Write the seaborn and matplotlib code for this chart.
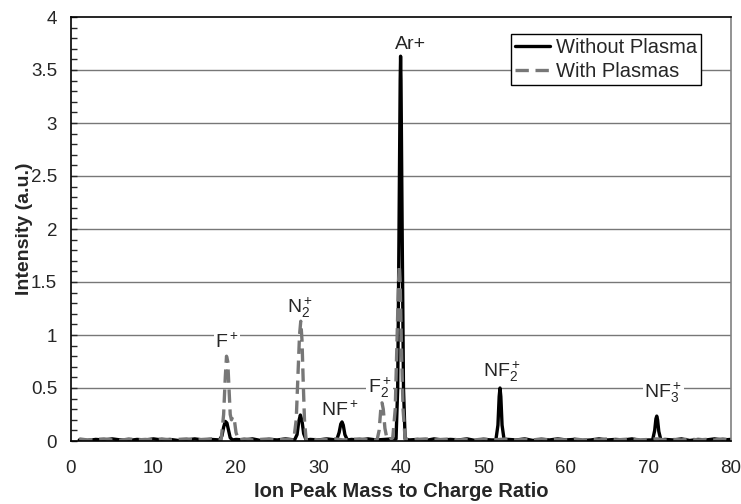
import pandas as pd
import matplotlib
matplotlib.use("Agg")
import matplotlib.pyplot as plt
import seaborn as sns
from matplotlib.ticker import MultipleLocator, FuncFormatter

# Spectrum without plasma (black, solid)
x_without = [1, 2, 3, 4, 5, 6, 7, 8, 9, 10, 11, 12, 13, 14, 15, 16, 17, 18.0,
             18.3, 18.5, 18.7, 18.9, 19.1, 19.3, 19.6,
             20, 21, 22, 23, 24, 25, 26, 27.1,
             27.4, 27.6, 27.8, 28.0, 28.2, 28.5,
             29, 30, 31, 32.2,
             32.5, 32.7, 32.85, 33.0, 33.2, 33.5,
             34, 35, 36, 37, 38, 39, 39.4,
             39.6, 39.75, 39.9, 39.95, 40.0, 40.15, 40.3, 40.5,
             41, 42, 43, 44, 45, 46, 47, 48, 49, 50, 51, 51.5,
             51.75, 51.9, 52.0, 52.1, 52.25, 52.5,
             53, 54, 55, 56, 57, 58, 59, 60, 61, 62, 63, 64, 65, 66, 67, 68, 69, 70, 70.5,
             70.75, 70.9, 71.0, 71.1, 71.25, 71.5,
             72, 73, 74, 75, 76, 77, 78, 79, 80]
y_without = [0.01, 0.005, 0.015, 0.01, 0.02, 0.01, 0.005, 0.015, 0.01, 0.02, 0.01, 0.015, 0.005, 0.01, 0.02, 0.01, 0.015, 0.01,
             0.05, 0.13, 0.185, 0.17, 0.10, 0.03, 0.01,
             0.015, 0.01, 0.02, 0.005, 0.015, 0.01, 0.02, 0.01,
             0.06, 0.18, 0.245, 0.19, 0.07, 0.01,
             0.015, 0.01, 0.02, 0.01,
             0.08, 0.16, 0.18, 0.15, 0.06, 0.01,
             0.015, 0.01, 0.02, 0.01, 0.015, 0.02, 0.02,
             0.5, 1.9, 3.4, 3.63, 3.4, 1.9, 0.5, 0.02,
             0.01, 0.015, 0.005, 0.02, 0.01, 0.015, 0.01, 0.02, 0.005, 0.015, 0.01, 0.01,
             0.15, 0.42, 0.50, 0.42, 0.15, 0.01,
             0.015, 0.01, 0.02, 0.005, 0.015, 0.01, 0.02, 0.01, 0.015, 0.005, 0.01, 0.02, 0.01, 0.015, 0.01, 0.02, 0.005, 0.01, 0.01,
             0.10, 0.21, 0.235, 0.20, 0.09, 0.01,
             0.015, 0.01, 0.02, 0.005, 0.015, 0.01, 0.02, 0.01, 0.015]

# Spectrum with plasma (grey, dashed)
x_with = [1, 2, 3, 4, 5, 6, 7, 8, 9, 10, 11, 12, 13, 14, 15, 16, 17, 18.2,
          18.5, 18.7, 18.85, 19.0, 19.15, 19.3, 19.45, 19.6, 19.8, 20.0, 20.3,
          21, 22, 23, 24, 25, 26, 27.0,
          27.3, 27.5, 27.7, 27.85, 28.0, 28.15, 28.3, 28.5,
          29, 30, 31, 32, 33, 34, 35, 36, 37.1,
          37.35, 37.55, 37.7, 37.85, 38.05, 38.3, 38.6, 39.0,
          39.3, 39.5, 39.7, 39.8, 39.9, 40.05, 40.25, 40.5,
          41, 42, 43, 44, 45, 46, 47, 48, 49, 50, 51, 52, 53, 54, 55, 56, 57, 58, 59, 60,
          61, 62, 63, 64, 65, 66, 67, 68, 69, 70, 71, 72, 73, 74, 75, 76, 77, 78, 79, 80]
y_with = [0.02, 0.01, 0.015, 0.02, 0.01, 0.005, 0.02, 0.01, 0.015, 0.01, 0.02, 0.01, 0.015, 0.02, 0.01, 0.015, 0.02, 0.01,
          0.25, 0.6, 0.8, 0.75, 0.5, 0.25, 0.2, 0.23, 0.2, 0.08, 0.01,
          0.02, 0.01, 0.015, 0.02, 0.01, 0.015, 0.01,
          0.2, 0.6, 1.0, 1.13, 0.95, 0.55, 0.2, 0.01,
          0.02, 0.01, 0.015, 0.02, 0.01, 0.015, 0.02, 0.01, 0.01,
          0.1, 0.3, 0.36, 0.3, 0.12, 0.02, 0.01, 0.03,
          0.3, 0.9, 1.5, 1.66, 1.5, 0.9, 0.3, 0.02,
          0.01, 0.015, 0.02, 0.01, 0.015, 0.02, 0.01, 0.015, 0.01, 0.02, 0.01, 0.015, 0.02, 0.01, 0.015, 0.01, 0.02, 0.01, 0.015, 0.01,
          0.02, 0.01, 0.015, 0.01, 0.02, 0.01, 0.015, 0.02, 0.01, 0.015, 0.02, 0.01, 0.015, 0.01, 0.02, 0.01, 0.015, 0.01, 0.02, 0.01]

series_names = ["Without Plasma", "With Plasmas"]
peak_labels = [r"$\mathregular{F^+}$", r"$\mathregular{N_2^+}$", r"$\mathregular{NF^+}$",
               r"$\mathregular{F_2^+}$", "Ar+", r"$\mathregular{NF_2^+}$", r"$\mathregular{NF_3^+}$"]
label_pos = [(18.9, 0.93), (27.8, 1.26), (32.6, 0.29), (37.4, 0.50),
             (41.1, 3.74), (52.3, 0.65), (71.8, 0.45)]

df = pd.concat([
    pd.DataFrame({"mz": x_without, "intensity": y_without, "series": series_names[0]}),
    pd.DataFrame({"mz": x_with, "intensity": y_with, "series": series_names[1]}),
])

sns.set_style("white")
plt.rcParams["font.family"] = ["Liberation Sans", "DejaVu Sans"]
plt.rcParams["mathtext.fontset"] = "custom"
plt.rcParams["mathtext.rm"] = "Liberation Sans"
plt.rcParams["mathtext.default"] = "regular"

fig = plt.figure(figsize=(7.41, 5.04), dpi=100)
ax = fig.add_axes([71 / 741, 1 - 441 / 504, 660 / 741, 424 / 504])

# horizontal grid
for g in [0.5, 1, 1.5, 2, 2.5, 3, 3.5]:
    ax.axhline(g, color="#777777", lw=1.0, zorder=0)

sns.lineplot(data=df, x="mz", y="intensity", hue="series", style="series",
             hue_order=series_names, style_order=series_names,
             palette={"Without Plasma": "black", "With Plasmas": "#777777"},
             dashes={"Without Plasma": "", "With Plasmas": (4, 2)},
             estimator=None, errorbar=None, sort=False, lw=2.4, legend=False, ax=ax)

for lab, (lx, ly) in zip(peak_labels, label_pos):
    ax.text(lx, ly, lab, ha="center", va="center", fontsize=14,
            bbox=dict(facecolor="white", edgecolor="none", pad=1.0), zorder=1.5)

ax.set_xlim(0, 80)
ax.set_ylim(0, 4)
ax.xaxis.set_major_locator(MultipleLocator(10))
ax.yaxis.set_major_locator(MultipleLocator(0.5))
ax.yaxis.set_minor_locator(MultipleLocator(0.1))
ax.yaxis.set_major_formatter(FuncFormatter(lambda v, p: f"{v:g}"))
ax.tick_params(axis="x", length=0, pad=14, labelsize=13.5)
ax.tick_params(axis="y", which="both", direction="in", length=4, width=1, left=True, pad=10, labelsize=13.5)

for s in ["left", "bottom", "top"]:
    ax.spines[s].set_color("black")
    ax.spines[s].set_linewidth(1.2)
ax.spines["right"].set_color("#808080")
ax.spines["right"].set_linewidth(1.2)

ax.set_xlabel("Ion Peak Mass to Charge Ratio", fontsize=14.5, fontweight="bold", labelpad=3)
ax.set_ylabel("Intensity (a.u.)", fontsize=14, fontweight="bold", labelpad=-1.5)

handles = [l for l in ax.lines if l.get_linewidth() > 2]
leg = ax.legend(handles, series_names,
                loc="upper right", bbox_to_anchor=(0.955, 0.96), borderaxespad=0,
                fontsize=14.5, frameon=True, fancybox=False, borderpad=0.2,
                labelspacing=0.25, handletextpad=0.3, handlelength=1.75)
leg.get_frame().set_edgecolor("black")
leg.get_frame().set_linewidth(1.0)
leg.get_frame().set_alpha(1)

fig.savefig("out.png", dpi=100)
